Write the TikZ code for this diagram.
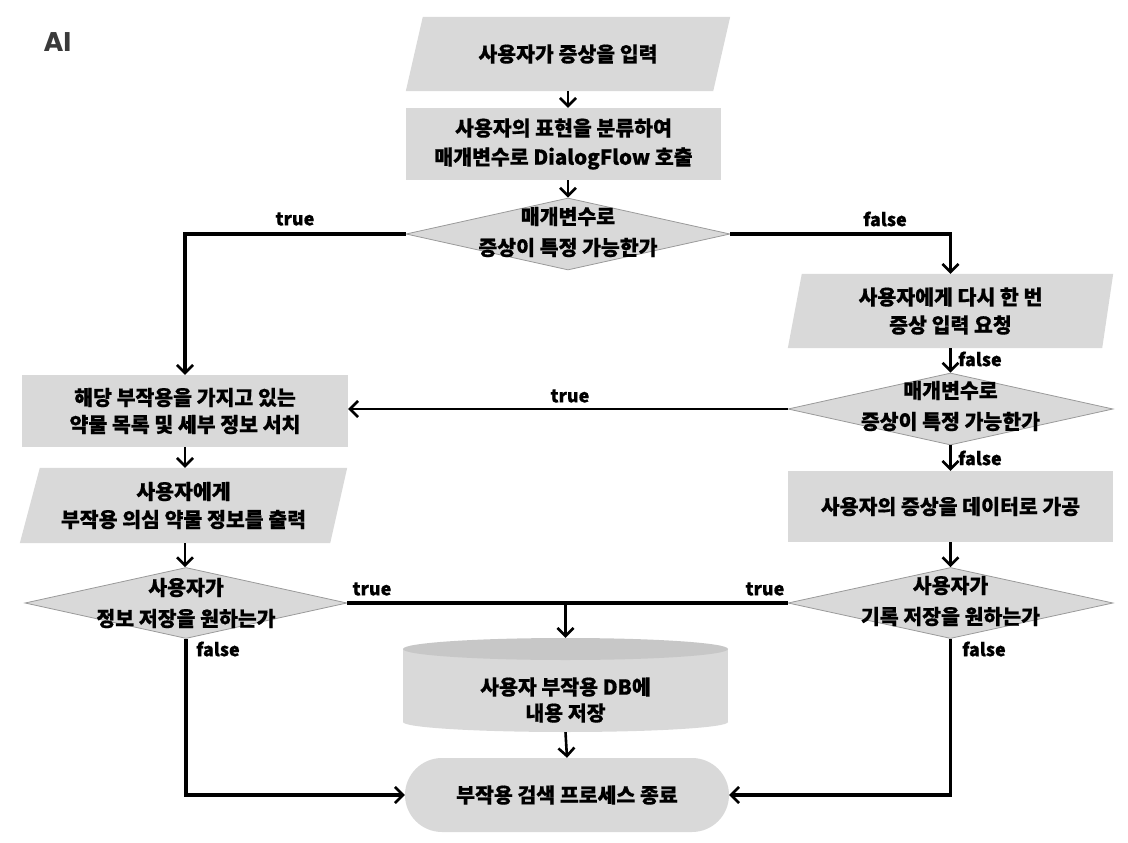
\documentclass[tikz,border=0pt]{standalone}
\usepackage{fontspec}
\setmainfont{Noto Sans CJK KR}[BoldFeatures={FakeBold=0.6}]
\newfontfamily\poppins{Poppins}
\usetikzlibrary{shapes.geometric,shapes.misc,arrows.meta,backgrounds}
\definecolor{boxgrey}{HTML}{D9D9D9}
\definecolor{cyltop}{HTML}{C7C7C7}
\definecolor{diaedge}{HTML}{9A9A9A}
\definecolor{aigrey}{HTML}{3A3A3A}
\begin{document}
\begin{tikzpicture}[x=1pt,y=-1pt,
  txt/.style={font=\bfseries\fontsize{20.5}{29}\selectfont,align=center,text=black,inner sep=0},
  lbl/.style={font=\bfseries\fontsize{18}{20}\selectfont,text=black,inner sep=0},
  box/.style={rectangle,fill=boxgrey,inner sep=0,font=\bfseries\fontsize{20.5}{29}\selectfont,align=center},
  iobox/.style={rectangle,inner sep=0,font=\bfseries\fontsize{20.5}{29}\selectfont,align=center},
  dia/.style={diamond,fill=boxgrey,draw=diaedge,line width=0.8pt,inner sep=0},
  term/.style={rounded rectangle,fill=boxgrey,inner sep=0,font=\bfseries\fontsize{20.5}{29}\selectfont},
  ar/.style={-{Straight Barb[length=8pt,width=16pt]},line width=2.6pt},
  conn/.style={line width=3.6pt},
  carr/.style={line width=3.6pt,-{Straight Barb[length=8pt,width=16pt,line width=2.6pt]}}
]
\useasboundingbox (0,0) rectangle (1128,843);

\node[font=\poppins\bfseries\fontsize{27}{30}\selectfont,text=aigrey,inner sep=0] (ai) at (57.5,42.5) {AI};

% nodes
\node[iobox,minimum width=324,minimum height=74] (in1) at (568,54) {사용자가 증상을 입력};
\node[box,minimum width=315,minimum height=72] (p1) at (563.5,144) {사용자의 표현을 분류하여\\매개변수로 DialogFlow 호출};
\node[dia,minimum width=324,minimum height=72] (d1) at (568,234) {};
\node[txt,font=\bfseries\fontsize{20.5}{31}\selectfont] (d1t) at (568,232) {매개변수로\\증상이 특정 가능한가};

\node[iobox,minimum width=325,minimum height=74,font=\bfseries\fontsize{20.5}{28}\selectfont] (in2) at (950.5,311) {사용자에게 다시 한 번\\증상 입력 요청};
\node[dia,minimum width=325,minimum height=72] (d2) at (950.5,409) {};
\node[txt,font=\bfseries\fontsize{20.5}{31}\selectfont] (d2t) at (950.5,406) {매개변수로\\증상이 특정 가능한가};
\node[box,minimum width=325,minimum height=71] (r2) at (950.5,506.5) {사용자의 증상을 데이터로 가공};
\node[dia,minimum width=325,minimum height=71] (d3r) at (950.5,603) {};
\node[txt,font=\bfseries\fontsize{20.5}{31}\selectfont] (d3rt) at (950.5,601) {사용자가\\기록 저장을 원하는가};

\node[box,minimum width=326,minimum height=72,font=\bfseries\fontsize{20.5}{27}\selectfont] (r1) at (185,411) {해당 부작용을 가지고 있는\\약물 목록 및 세부 정보 서치};
\node[iobox,minimum width=327,minimum height=75,font=\bfseries\fontsize{20.5}{28}\selectfont] (in3) at (183.5,505.5) {사용자에게\\부작용 의심 약물 정보를 출력};
\node[dia,minimum width=322,minimum height=71] (d3l) at (186,603) {};
\node[txt,font=\bfseries\fontsize{20.5}{31}\selectfont] (d3lt) at (186,603) {사용자가\\정보 저장을 원하는가};

\node[rectangle,inner sep=0,minimum width=325,minimum height=94] (cyl) at (565.5,685) {};
\node[txt,font=\bfseries\fontsize{20.5}{26}\selectfont] (cylt) at (565.5,700) {사용자 부작용 DB에\\내용 저장};
\node[term,minimum width=324,minimum height=74] (end) at (567,795) {부작용 검색 프로세스 종료};

% backgrounds
\begin{scope}[on background layer]
  \fill[boxgrey] ([xshift=17]in1.north west) -- (in1.north east) -- ([xshift=-17]in1.south east) -- (in1.south west) -- cycle;
  \fill[boxgrey] ([xshift=14]in2.north west) -- (in2.north east) -- ([xshift=-11]in2.south east) -- (in2.south west) -- cycle;
  \fill[boxgrey] ([xshift=20]in3.north west) -- (in3.north east) -- ([xshift=-17]in3.south east) -- (in3.south west) -- cycle;
  \fill[boxgrey] (403,649) rectangle (728,722);
  \fill[boxgrey] (565.5,722) ellipse [x radius=162.5, y radius=10];
  \fill[cyltop] (565.5,649) ellipse [x radius=162.5, y radius=11];
\end{scope}

% connectors
\draw[ar] (in1.south) -- (in1.south |- p1.north);
\draw[ar] (d1.north |- p1.south) -- (d1.north);
\draw[carr] (d1.west) -| (r1.north);
\node[lbl] (lt1) at (295,219) {true};
\draw[carr] (d1.east) -| (in2.north);
\node[lbl] (lf1) at (885,219) {false};
\draw[ar] (in2.south) -- (d2.north);
\node[lbl,anchor=west] (lf2) at (958,359) {false};
\draw[ar] (d2.west) -- (d2.west -| r1.east);
\node[lbl] (lt2) at (570,396) {true};
\draw[ar] (d2.south) -- (r2.north);
\node[lbl,anchor=west] (lf3) at (958,458) {false};
\draw[ar] (r2.south) -- (d3r.north);
\draw[ar] (r1.south) -- (r1.south |- in3.north);
\draw[ar] (in3.south -| r1.south) -- (d3l.north -| r1.south);
\coordinate (j) at (cyl.north |- d3l.east);
\draw[conn] (d3l.east) -- (d3r.west);
\node[lbl] (lt3) at (372,589) {true};
\node[lbl] (lt4) at (765,589) {true};
\draw[ar] (j) -- (cyl.north);
\draw[carr] (d3l.south) |- (end.west);
\node[lbl,anchor=west] (lf4) at (196,649) {false};
\draw[carr] (d3r.south) |- (end.east);
\node[lbl,anchor=west] (lf5) at (962,649) {false};
\draw[ar] (cyl.south) -- (end.north);
\end{tikzpicture}
\end{document}
